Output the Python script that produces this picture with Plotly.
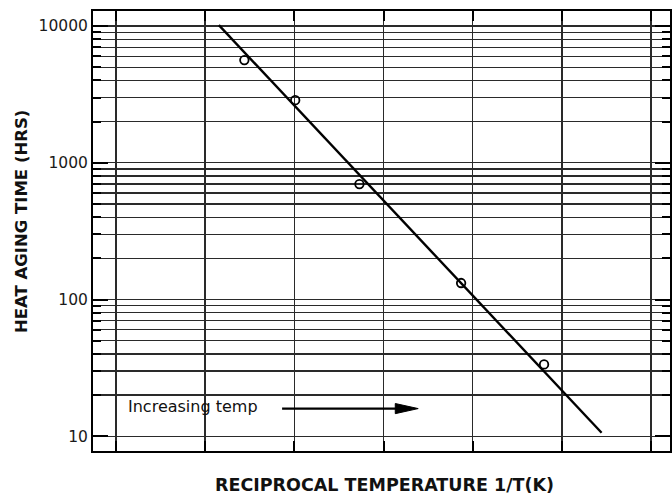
import plotly.graph_objects as go

# ---- data (x in grid units; y = heat aging time, hours) ----
point_x = [2.44, 3.01, 3.73, 4.87, 5.80]
point_y = [5640, 2870, 698, 132, 33.5]
fit_x = [2.154, 6.445]
fit_y = [10160, 10.6]

y_major_ticks = [10, 100, 1000, 10000]
y_major_labels = ["10", "100", "1000", "10000"]
y_minor_ticks = [m * d for d in (10, 100, 1000) for m in range(2, 10)]
x_grid_ticks = [1, 2, 3, 4, 5, 6, 7]

FONT = "DejaVu Sans"
GRID = "#2a2a2a"

fig = go.Figure()
fig.add_trace(go.Scatter(x=fit_x, y=fit_y, mode="lines",
                         line=dict(color="black", width=2.4),
                         showlegend=False, hoverinfo="skip"))
fig.add_trace(go.Scatter(x=point_x, y=point_y, mode="markers",
                         marker=dict(symbol="circle-open", size=8.5,
                                     color="black", line=dict(width=1.8)),
                         showlegend=False))

# arrow "Increasing temp"
arrow_y_paper = 0.0964
arrow_x0, arrow_x1 = 2.863, 4.389
head_len = 0.257
head_half = 0.0115
fig.add_shape(type="line", xref="x", yref="paper",
              x0=arrow_x0, x1=arrow_x1 - head_len * 0.5,
              y0=arrow_y_paper, y1=arrow_y_paper,
              line=dict(color="black", width=2.2))
fig.add_shape(type="path", xref="x", yref="paper",
              path=(f"M {arrow_x1 - head_len},{arrow_y_paper + head_half} "
                    f"L {arrow_x1},{arrow_y_paper} "
                    f"L {arrow_x1 - head_len},{arrow_y_paper - head_half} Z"),
              fillcolor="black", line=dict(color="black", width=1))

fig.add_annotation(text="Increasing temp", xref="x", yref="paper",
                   x=1.11, y=arrow_y_paper + 0.004, xanchor="left", yanchor="middle",
                   showarrow=False, font=dict(family=FONT, size=16, color="#111"))

fig.add_annotation(text="<b>HEAT AGING TIME (HRS)</b>", xref="paper", yref="paper",
                   x=-0.1235, y=0.522, xanchor="center", yanchor="middle",
                   textangle=-90, showarrow=False,
                   font=dict(family=FONT, size=16.5, color="#111"))
fig.add_annotation(text="<b>RECIPROCAL TEMPERATURE 1/T(K)</b>", xref="paper", yref="paper",
                   x=0.506, y=-0.078, xanchor="center", yanchor="middle",
                   showarrow=False,
                   font=dict(family=FONT, size=17.5, color="#111"))

fig.update_xaxes(range=[0.743, 7.212], tickvals=x_grid_ticks, showticklabels=False,
                 ticks="inside", ticklen=10, tickwidth=2, tickcolor="black",
                 showgrid=True, gridcolor=GRID, gridwidth=1.3,
                 showline=True, linecolor="black", linewidth=2, mirror="ticks",
                 zeroline=False)
fig.update_yaxes(type="log", range=[0.892, 4.110],
                 tickvals=y_major_ticks, ticktext=y_major_labels,
                 ticks="inside", ticklen=15, tickwidth=2, tickcolor="black",
                 tickfont=dict(family=FONT, size=15.5, color="#1a1a1a"),
                 showgrid=True, gridcolor=GRID, gridwidth=1.3,
                 minor=dict(tickvals=y_minor_ticks, ticks="inside", ticklen=8,
                            tickwidth=2, tickcolor="black",
                            showgrid=True, gridcolor=GRID, gridwidth=1.3),
                 showline=True, linecolor="black", linewidth=2, mirror="ticks",
                 zeroline=False)

fig.update_layout(width=672, height=494,
                  margin=dict(l=93, r=0, t=11, b=43, pad=0),
                  plot_bgcolor="white", paper_bgcolor="white",
                  font=dict(family=FONT))

fig.write_html("out.html",
               config={"displayModeBar": False, "staticPlot": True},
               post_script="document.body.style.margin='0';document.body.style.overflow='hidden';")
